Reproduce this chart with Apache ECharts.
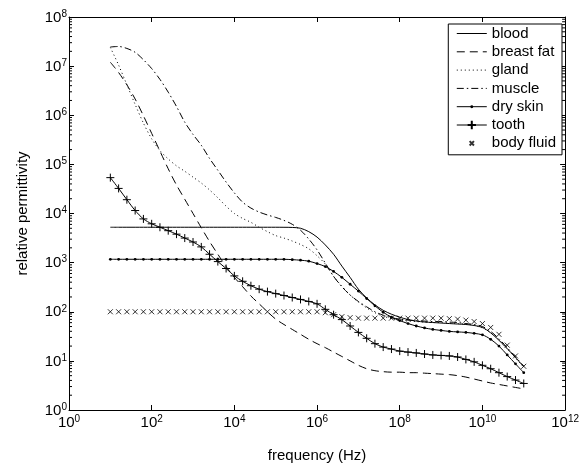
<!DOCTYPE html>
<html>
<head>
<meta charset="utf-8">
<script src="https://cdn.jsdelivr.net/npm/echarts@6.0.0/dist/echarts.min.js"></script>
<style>
html,body{margin:0;padding:0;background:#fff;}
#chart{width:582px;height:468px;}
</style>
</head>
<body>
<div id="chart"></div>
<script>
// Frequencies (Hz), 5 points per decade from 10 Hz to 100 GHz
const freq = [10,15.85,25.12,39.81,63.1, 100,158.5,251.2,398.1,631,
  1e3,1.585e3,2.512e3,3.981e3,6.31e3, 1e4,1.585e4,2.512e4,3.981e4,6.31e4,
  1e5,1.585e5,2.512e5,3.981e5,6.31e5, 1e6,1.585e6,2.512e6,3.981e6,6.31e6,
  1e7,1.585e7,2.512e7,3.981e7,6.31e7, 1e8,1.585e8,2.512e8,3.981e8,6.31e8,
  1e9,1.585e9,2.512e9,3.981e9,6.31e9, 1e10,1.585e10,2.512e10,3.981e10,6.31e10,
  1e11];

const blood = [5250,5250,5250,5250,5250, 5250,5250,5250,5250,5250,
  5250,5250,5250,5250,5250, 5250,5250,5250,5250,5250,
  5250,5240,5200,5010,4270, 3310,2290,1480,851,501,
  288,191,138,107,89.1, 77.6,69.2,64.6,61.7,60.3,
  58.9,57.5,56.2,55.0,52.5, 47.9,37.2,26.3,17.8,11.7,
  7.6];

const breastFat = [1.20e7,7.41e6,4.17e6,2.14e6,9.77e5, 4.27e5,1.86e5,8.13e4,3.80e4,1.95e4,
  1.00e4,5130,2690,1480,832, 501,324,209,145,100,
  70.8,55.0,43.7,34.7,27.5, 22.4,18.6,15.1,12.3,10.0,
  8.13,6.92,6.31,6.03,5.89, 5.89,5.75,5.75,5.62,5.50,
  5.37,5.25,5.01,4.68,4.27, 3.89,3.55,3.31,3.09,2.88,
  2.69];

const gland = [2.40e7,1.05e7,4.17e6,1.66e6,6.92e5, 3.31e5,1.91e5,1.29e5,9.33e4,7.24e4,
  5.50e4,4.17e4,3.02e4,2.09e4,1.41e4, 1.00e4,7940,6610,5250,4270,
  3550,3160,2750,2340,1910, 1380,933,525,331,219,
  158,120,95.5,81.3,72.4, 67.6,64.6,63.1,61.7,60.3,
  60.3,58.9,57.5,56.2,52.5, 46.8,37.2,26.3,17.4,11.5,
  7.4];

const muscle = [2.45e7,2.51e7,2.29e7,1.91e7,1.35e7, 8.91e6,5.37e6,2.95e6,1.51e6,7.24e5,
  4.07e5,2.45e5,1.32e5,7.59e4,4.37e4, 2.63e4,1.70e4,1.29e4,1.07e4,9330,
  8320,7240,6030,4570,3020, 1820,977,525,324,219,
  162,126,100,85.1,75.9, 70.8,67.6,66.1,64.6,63.1,
  63.1,61.7,60.3,57.5,55.0, 50.1,39.8,28.2,18.6,12.0,
  7.9];

const drySkin = [1170,1170,1170,1170,1170, 1170,1170,1170,1170,1170,
  1170,1170,1170,1170,1170, 1170,1170,1170,1170,1170,
  1170,1170,1150,1120,1070, 955,832,661,501,363,
  263,186,132,97.7,77.6, 66.1,57.5,51.3,46.8,43.7,
  41.7,39.8,38.9,38.0,36.3, 33.9,27.5,20.0,13.2,8.7,
  5.75];

const tooth = [5.37e4,3.24e4,1.91e4,1.15e4,7760, 6170,5250,4470,3800,3160,
  2630,2090,1480,1050,759, 537,417,339,288,257,
  234,214,195,178,162, 145,112,87.1,69.2,51.3,
  38.0,28.8,22.4,19.1,17.4, 15.8,15.1,14.5,13.8,13.2,
  12.9,12.6,12.0,10.7,9.55, 8.13,6.92,5.75,4.79,4.07,
  3.47];

const bodyFluid = [100,100,100,100,100, 100,100,100,100,100,
  100,100,100,100,100, 100,100,100,100,100,
  100,100,100,100,100, 100,95.5,87.1,79.4,75.9,
  74.1,74.1,74.1,74.1,74.1, 74.1,74.1,74.1,74.1,74.1,
  74.1,72.4,70.8,67.6,63.1, 57.5,47.9,34.7,20.9,12.6,
  7.76];

const seriesNames = ['blood','breast fat','gland','muscle','dry skin','tooth','body fluid'];
const xAxisName = 'frequency (Hz)';
const yAxisName = 'relative permittivity';

// minor tick multipliers for the log y axis (axis decoration only)
const minorMult = [2,3,4,5,6,7,8,9];
const yDecades = [1,10,100,1e3,1e4,1e5,1e6,1e7];

const pairs = arr => freq.map((f, i) => [f, arr[i]]);
const FONT = '"Liberation Sans", Arial, Helvetica, sans-serif';
const expFmt = v => '{b|10}{e|' + Math.round(Math.log10(v)) + '}';

const minorData = [];
yDecades.forEach(d => minorMult.forEach(m => minorData.push([1e6, m * d])));

// marker shapes (padded boxes so the legend icons stay small)
const SYM_NONE = 'path://M0,0M10,10M5,5L5,5';
const SYM_DOT = 'path://M0,0M10,10M3.6,5A1.4,1.4,0,1,1,6.4,5A1.4,1.4,0,1,1,3.6,5Z';
const SYM_PLUS = 'path://M0,0M10,10M5,1L5,9M1,5L9,5';
const SYM_CROSS = 'path://M0,0M12,12M4,4L8,8M8,4L4,8';

const black = '#000';
const baseLine = (name, data, lineType, extra) => Object.assign({
  name: name, type: 'line', data: pairs(data), symbol: SYM_NONE, showSymbol: false, smooth: 0.3,
  lineStyle: {color: black, width: 1, type: lineType},
  itemStyle: {color: black}, z: 3
}, extra || {});

const chart = echarts.init(document.getElementById('chart'), null, {renderer: 'canvas'});
const axisCommonX = {
  type: 'log', logBase: 100, min: 1, max: 1e12,
  axisLine: {show: true, onZero: false, lineStyle: {color: black, width: 1}},
  axisTick: {show: true, inside: true, length: 5, lineStyle: {color: black, width: 1}},
  splitLine: {show: false}, minorTick: {show: false}
};
const axisCommonY = {
  type: 'log', logBase: 10, min: 1, max: 1e8,
  axisLine: {show: true, onZero: false, lineStyle: {color: black, width: 1}},
  axisTick: {show: true, inside: true, length: 5, lineStyle: {color: black, width: 1}},
  splitLine: {show: false}, minorTick: {show: false}
};

chart.setOption({
  animation: false,
  textStyle: {fontFamily: FONT, color: black},
  grid: {left: 69, top: 17, right: 15, bottom: 57, containLabel: false},
  legend: {
    orient: 'vertical', right: 20, top: 24,
    data: seriesNames,
    backgroundColor: '#fff', borderColor: black, borderWidth: 1, borderRadius: 0,
    padding: [2, 6, 4, 8], itemGap: 3.3, itemWidth: 30, itemHeight: 13,
    lineStyle: {width: 1},
    textStyle: {fontSize: 15, lineHeight: 14, color: black, fontFamily: FONT}
  },
  xAxis: [
    Object.assign({}, axisCommonX, {
      position: 'bottom',
      name: xAxisName, nameLocation: 'middle', nameGap: 38,
      nameTextStyle: {fontSize: 15, color: black, fontFamily: FONT},
      axisLabel: {
        margin: 4, color: black, formatter: expFmt,
        rich: {
          b: {fontSize: 15, lineHeight: 16, verticalAlign: 'bottom', fontFamily: FONT, color: black},
          e: {fontSize: 10, lineHeight: 8, verticalAlign: 'top', fontFamily: FONT, color: black}
        }
      }
    }),
    Object.assign({}, axisCommonX, {position: 'top', axisLabel: {show: false}})
  ],
  yAxis: [
    Object.assign({}, axisCommonY, {
      position: 'left',
      name: yAxisName, nameLocation: 'middle', nameGap: 39,
      nameTextStyle: {fontSize: 15, color: black, fontFamily: FONT},
      axisLabel: {
        margin: 2, color: black, formatter: expFmt,
        rich: {
          b: {fontSize: 15, lineHeight: 16, verticalAlign: 'bottom', fontFamily: FONT, color: black},
          e: {fontSize: 10, lineHeight: 7, verticalAlign: 'top', fontFamily: FONT, color: black}
        }
      }
    }),
    Object.assign({}, axisCommonY, {position: 'right', axisLabel: {show: false}})
  ],
  series: [
    baseLine('blood', blood, 'solid'),
    baseLine('breast fat', breastFat, [8, 5]),
    baseLine('gland', gland, [1, 3]),
    baseLine('muscle', muscle, [7, 3, 1.5, 3]),
    baseLine('dry skin', drySkin, 'solid', {symbol: SYM_DOT, symbolSize: 10, showSymbol: true, showAllSymbol: true}),
    baseLine('tooth', tooth, 'solid', {
      symbol: SYM_PLUS, symbolSize: 10, showSymbol: true, showAllSymbol: true,
      itemStyle: {color: 'transparent', borderColor: black, borderWidth: 1}
    }),
    {
      name: 'body fluid', type: 'scatter', data: pairs(bodyFluid),
      symbol: SYM_CROSS, symbolSize: 15,
      itemStyle: {color: 'transparent', borderColor: black, borderWidth: 1}, z: 3
    },
    {
      type: 'custom', silent: true, data: minorData, encode: {x: 0, y: 1}, clip: false, z: 5,
      renderItem: function (params, api) {
        const y = api.coord([api.value(0), api.value(1)])[1];
        const cs = params.coordSys;
        return {type: 'group', children: [
          {type: 'line', shape: {x1: cs.x, y1: y, x2: cs.x + 3, y2: y}, style: {stroke: black, lineWidth: 1}},
          {type: 'line', shape: {x1: cs.x + cs.width - 3, y1: y, x2: cs.x + cs.width, y2: y}, style: {stroke: black, lineWidth: 1}}
        ]};
      }
    }
  ]
});
</script>
</body>
</html>
